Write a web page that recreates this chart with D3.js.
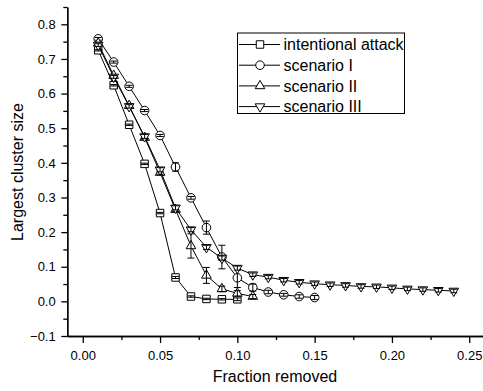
<!DOCTYPE html>
<html>
<head>
<meta charset="utf-8">
<script src="https://cdn.jsdelivr.net/npm/d3@7"></script>
<style>
  body { margin: 0; background: #fff; }
  svg { display: block; font-family: "Liberation Sans", Arial, sans-serif; }
</style>
</head>
<body>
<div id="chart"></div>
<script>
// Data
const fractions = [0.01,0.02,0.03,0.04,0.05,0.06,0.07,0.08,0.09,0.10,0.11,0.12,0.13,0.14,0.15,0.16,0.17,0.18,0.19,0.20,0.21,0.22,0.23,0.24]

const attackVals = [0.725,0.624,0.51,0.397,0.255,0.069,0.014,0.007,0.006,0.006]
const attackErr  = [0.002,0.002,0.002,0.002,0.002,0.003,0.002,0.002,0.002,0.004]

const scen1Vals = [0.758,0.691,0.621,0.551,0.479,0.388,0.299,0.213,0.128,0.068,0.040,0.027,0.019,0.014,0.011]
const scen1Err  = [0.004,0.003,0.003,0.003,0.003,0.012,0.004,0.019,0.034,0.028,0.010,0.005,0.004,0.005,0.006]

const scen2Vals = [0.745,0.652,0.565,0.473,0.372,0.265,0.160,0.075,0.036,0.023,0.014]
const scen2Err  = [0.003,0.003,0.004,0.005,0.005,0.005,0.035,0.023,0.008,0.008,0.006]

const scen3Vals = [0.740,0.648,0.563,0.476,0.380,0.270,0.207,0.156,0.125,0.096,0.077,0.070,0.061,0.055,0.051,0.048,0.046,0.043,0.042,0.039,0.036,0.034,0.032,0.030]
const scen3Err  = [0.004,0.004,0.005,0.006,0.006,0.006,0.006,0.006,0.006,0.006,0.005,0.005,0.005,0.005,0.005,0.005,0.005,0.005,0.005,0.005,0.005,0.005,0.005,0.005]

const seriesNames = ['intentional attack','scenario I','scenario II','scenario III']
const xTicks = [0,0.05,0.10,0.15,0.20,0.25]
const yTicks = [-0.1,0,0.1,0.2,0.3,0.4,0.5,0.6,0.7,0.8]

// Dimensions
const width = 483, height = 391

const svg = d3.select('#chart')
  .append('svg')
  .attr('width', width)
  .attr('height', height)

// scales
const x = d3.scaleLinear().domain([-0.01, 0.26]).range([67.3, 484.7])
const y = d3.scaleLinear().domain([-0.1, 0.85]).range([336, 7])

// axes - major + minor ticks, pointing out
const xAxis = d3.axisBottom(x).tickValues(xTicks).tickFormat(d3.format('.2f')).tickSize(7).tickSizeOuter(0)
const xMinor = d3.axisBottom(x).tickValues(d3.range(0.025, 0.26, 0.05)).tickFormat('').tickSize(4).tickSizeOuter(0)
const yAxis = d3.axisLeft(y).tickValues(yTicks).tickFormat(d3.format('.1f')).tickSize(6).tickSizeOuter(0)
const yMinor = d3.axisLeft(y).tickValues(d3.range(-0.05, 0.86, 0.1)).tickFormat('').tickSize(4).tickSizeOuter(0)

function styleAxis(g) {
  g.selectAll('path, line').attr('stroke', '#000').attr('stroke-width', 1.3)
  g.selectAll('text').attr('fill', '#000').attr('font-size', 13).attr('font-family', '"Liberation Sans", Arial, sans-serif')
}

svg.append('g').attr('transform', `translate(0,${y(-0.1)})`).call(xMinor).call(styleAxis)
svg.append('g').attr('transform', `translate(0,${y(-0.1)})`).call(xAxis).call(styleAxis)
  .selectAll('text').attr('dy', '1.05em')
svg.append('g').attr('transform', `translate(${x(-0.01)},0)`).call(yMinor).call(styleAxis)
svg.append('g').attr('transform', `translate(${x(-0.01)},0)`).call(yAxis).call(styleAxis)
  .selectAll('text').attr('dx', '-0.2em')

// axis titles
svg.append('text')
  .attr('x', 275).attr('y', 382)
  .attr('text-anchor', 'middle')
  .attr('font-size', 16)
  .text('Fraction removed')

svg.append('text')
  .attr('transform', 'translate(23,172) rotate(-90)')
  .attr('text-anchor', 'middle')
  .attr('font-size', 16)
  .text('Largest cluster size')

// marker shapes
const shapes = [
  d3.symbol().type(d3.symbolSquare).size(56),
  d3.symbol().type(d3.symbolCircle).size(58),
  d3.symbol().type(d3.symbolTriangle).size(40),
  d3.symbol().type(d3.symbolTriangle).size(40)
]
const rotations = [0, 0, 0, 180]

const allSeries = [
  [attackVals, attackErr],
  [scen1Vals, scen1Err],
  [scen2Vals, scen2Err],
  [scen3Vals, scen3Err]
]

const line = d3.line().x(d => x(d.f)).y(d => y(d.v))

allSeries.forEach(([vals, errs], s) => {
  const pts = vals.map((v, i) => ({ f: fractions[i], v: v, e: errs[i] }))
  const g = svg.append('g')

  g.append('path')
    .datum(pts)
    .attr('d', line)
    .attr('fill', 'none')
    .attr('stroke', '#000')
    .attr('stroke-width', 1)

  g.selectAll('path.mk')
    .data(pts)
    .join('path')
    .attr('class', 'mk')
    .attr('d', shapes[s])
    .attr('transform', d => `translate(${x(d.f)},${y(d.v)}) rotate(${rotations[s]})`)
    .attr('fill', '#fff')
    .attr('stroke', '#000')
    .attr('stroke-width', 1)

  // error bars drawn over markers
  const eb = g.selectAll('g.eb').data(pts).join('g').attr('class', 'eb')
    .attr('stroke', '#000').attr('stroke-width', 1)
  eb.append('line')
    .attr('x1', d => x(d.f)).attr('x2', d => x(d.f))
    .attr('y1', d => y(d.v + d.e)).attr('y2', d => y(d.v - d.e))
  eb.append('line')
    .attr('x1', d => x(d.f) - 3.5).attr('x2', d => x(d.f) + 3.5)
    .attr('y1', d => y(d.v + d.e)).attr('y2', d => y(d.v + d.e))
  eb.append('line')
    .attr('x1', d => x(d.f) - 3.5).attr('x2', d => x(d.f) + 3.5)
    .attr('y1', d => y(d.v - d.e)).attr('y2', d => y(d.v - d.e))
})

// legend
const legend = svg.append('g')
legend.append('rect')
  .attr('x', 237.5).attr('y', 33)
  .attr('width', 167).attr('height', 80.5)
  .attr('fill', '#fff')
  .attr('stroke', '#000')
  .attr('stroke-width', 1)

seriesNames.forEach((name, i) => {
  const cy = 44.5 + i * 20.7
  legend.append('line')
    .attr('x1', 239).attr('x2', 280)
    .attr('y1', cy).attr('y2', cy)
    .attr('stroke', '#000').attr('stroke-width', 1)
  legend.append('path')
    .attr('d', shapes[i])
    .attr('transform', `translate(260,${cy}) rotate(${rotations[i]})`)
    .attr('fill', '#fff').attr('stroke', '#000').attr('stroke-width', 1)
  legend.append('text')
    .attr('x', 283.5).attr('y', cy)
    .attr('dy', '0.35em')
    .attr('font-size', 16)
    .text(name)
})
</script>
</body>
</html>
